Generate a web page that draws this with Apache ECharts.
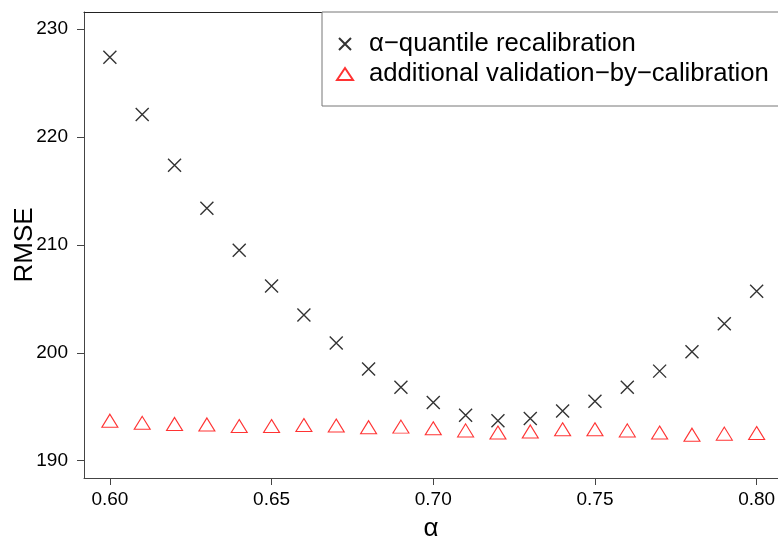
<!DOCTYPE html>
<html>
<head>
<meta charset="utf-8">
<script src="https://cdn.jsdelivr.net/npm/echarts@6/dist/echarts.min.js"></script>
<style>
  html, body { margin: 0; padding: 0; background: #fff; }
  #chart { width: 778px; height: 538px; }
</style>
</head>
<body>
<div id="chart"></div>
<script>
// alpha values (x) and RMSE for both methods
var alphas = [0.60, 0.61, 0.62, 0.63, 0.64, 0.65, 0.66, 0.67, 0.68, 0.69, 0.70,
              0.71, 0.72, 0.73, 0.74, 0.75, 0.76, 0.77, 0.78, 0.79, 0.80];
var quantileRmse = [227.4, 222.1, 217.4, 213.4, 209.5, 206.2, 203.5, 200.9, 198.5, 196.8, 195.4,
                    194.2, 193.7, 193.9, 194.6, 195.5, 196.8, 198.3, 200.1, 202.7, 205.7];
var validationRmse = [193.5, 193.3, 193.2, 193.15, 193.0, 193.0, 193.1, 193.05, 192.9, 192.95, 192.8,
                      192.6, 192.4, 192.5, 192.7, 192.7, 192.6, 192.4, 192.2, 192.3, 192.35];
var xTicks = [0.60, 0.65, 0.70, 0.75, 0.80];
var yTicks = [190, 200, 210, 220, 230];
var seriesNames = ["\u03b1\u2212quantile recalibration", "additional validation\u2212by\u2212calibration"];

var font = "'Liberation Sans', Arial, sans-serif";

function pairs(xs, ys) {
  var out = [];
  for (var i = 0; i < xs.length; i++) {
    out.push([xs[i], ys[i]]);
  }
  return out;
}

var chart = echarts.init(document.getElementById("chart"));
chart.setOption({
  animation: false,
  backgroundColor: "#fff",
  grid: {
    left: 84,
    right: 0,
    top: 12,
    bottom: 60,
    outerBoundsMode: "none"
  },
  graphic: [
    {
      type: "rect",
      z: 1,
      shape: { x: 322, y: 12, width: 480, height: 94 },
      style: { fill: "#fff", stroke: "#777", lineWidth: 1 }
    }
  ],
  legend: {
    orient: "vertical",
    left: 336,
    top: 31,
    padding: 0,
    itemWidth: 38,
    itemHeight: 12,
    itemGap: 4,
    z: 5,
    textStyle: { fontSize: 25.7, lineHeight: 26, color: "#000", fontFamily: font },
    data: [
      { name: seriesNames[0] },
      { name: seriesNames[1], icon: "path://M8,0L16,12L0,12Z" }
    ]
  },
  xAxis: [
    {
      type: "value",
      min: 0.592,
      max: 0.8066,
      name: "\u03b1",
      nameLocation: "middle",
      nameGap: 38,
      nameMoveOverlap: false,
      nameTextStyle: { fontSize: 26, color: "#000", fontFamily: font },
      splitLine: { show: false },
      axisLine: { lineStyle: { color: "#444", width: 1 } },
      axisTick: { customValues: xTicks, length: 7, lineStyle: { color: "#444" } },
      axisLabel: {
        customValues: xTicks,
        margin: 12,
        fontSize: 19,
        color: "#000",
        fontFamily: font,
        formatter: function (v) { return v.toFixed(2); }
      }
    },
    {
      type: "value",
      position: "top",
      min: 0.592,
      max: 0.8066,
      splitLine: { show: false },
      axisLine: { show: true, lineStyle: { color: "#222", width: 1 } },
      axisTick: { show: false },
      axisLabel: { show: false }
    }
  ],
  yAxis: {
    type: "value",
    min: 188.39,
    max: 231.6,
    name: "RMSE",
    nameLocation: "middle",
    nameGap: 46,
    nameMoveOverlap: false,
    nameTextStyle: { fontSize: 26, color: "#000", fontFamily: font },
    splitLine: { show: false },
    axisLine: { show: true, lineStyle: { color: "#444", width: 1 } },
    axisTick: { show: true, customValues: yTicks, length: 7, lineStyle: { color: "#444" } },
    axisLabel: { customValues: yTicks, margin: 16, fontSize: 19, color: "#000", fontFamily: font }
  },
  series: [
    {
      name: seriesNames[0],
      type: "scatter",
      data: pairs(alphas, quantileRmse),
      symbol: "path://M0,0L10,10M10,0L0,10",
      symbolSize: 13,
      itemStyle: { color: "rgba(0,0,0,0)", borderColor: "#000", borderWidth: 1.4 }
    },
    {
      name: seriesNames[1],
      type: "scatter",
      data: pairs(alphas, validationRmse),
      symbol: "triangle",
      symbolSize: [16, 13],
      symbolOffset: [0, -2.2],
      itemStyle: { color: "rgba(0,0,0,0)", borderColor: "#ff0000", borderWidth: 1.1 }
    }
  ]
});
</script>
</body>
</html>
